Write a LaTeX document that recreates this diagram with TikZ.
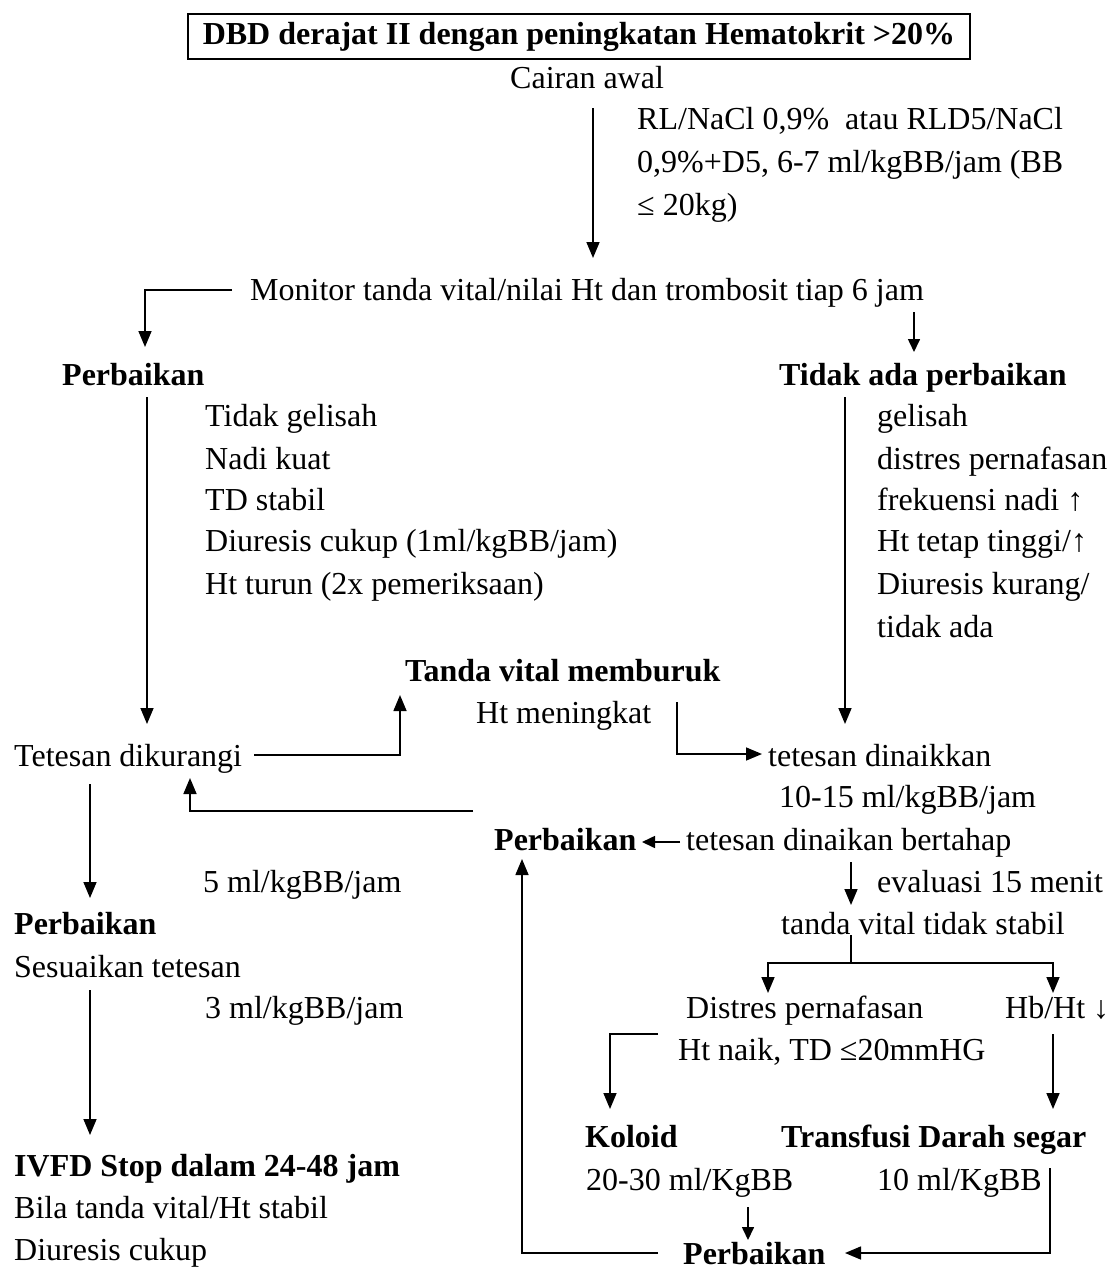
\documentclass[tikz,border=0pt]{standalone}
\usepackage{fontspec}
\setmainfont{Liberation Serif}
\usetikzlibrary{arrows.meta}
\begin{document}
\begin{tikzpicture}[x=1pt,y=-1pt,
  txt/.style={inner sep=0pt,anchor=base west,font=\fontsize{32}{40}\selectfont},
  hd/.style={txt,font=\fontsize{32}{40}\selectfont\bfseries},
  ln/.style={line width=1.6pt},
  arr/.style={ln,-{Triangle[width=13pt,length=16pt]}},
  sarr/.style={ln,-{Triangle[width=12pt,length=13pt]}}]
\useasboundingbox (0,0) rectangle (1112,1277);
\fill[white] (0,0) rectangle (1112,1277);

% title box
\node[draw,line width=1.4pt,minimum width=782pt,minimum height=45pt,inner sep=0pt,
      font=\fontsize{32}{40}\selectfont\bfseries] (title) at (579,36.5)
      {DBD derajat II dengan peningkatan Hematokrit >20\%};

% texts
\node[txt] (cair) at (510,88) {Cairan awal};
\node[txt] (rl1) at (637,129) {RL/NaCl 0,9\%\ \ atau RLD5/NaCl};
\node[txt] (rl2) at (637,172) {0,9\%+D5, 6-7 ml/kgBB/jam (BB};
\node[txt] (rl3) at (637,215) {≤ 20kg)};
\node[txt] (mon) at (250,300) {Monitor tanda vital/nilai Ht dan trombosit tiap 6 jam};
\node[hd] (perbA) at (62,385) {Perbaikan};
\node[hd] (tidak) at (779,385) {Tidak ada perbaikan};

\node[txt] (la) at (205,426) {Tidak gelisah};
\node[txt] (lb) at (205,469) {Nadi kuat};
\node[txt] (lc) at (205,510) {TD stabil};
\node[txt] (ld) at (205,551) {Diuresis cukup (1ml/kgBB/jam)};
\node[txt] (le) at (205,594) {Ht turun (2x pemeriksaan)};

\node[txt] (ra) at (877,426) {gelisah};
\node[txt] (rb) at (877,469) {distres pernafasan};
\node[txt] (rc) at (877,510) {frekuensi nadi ↑};
\node[txt] (rd) at (877,551) {Ht tetap tinggi/↑};
\node[txt] (re) at (877,594) {Diuresis kurang/};
\node[txt] (rf) at (877,637) {tidak ada};

\node[hd] (tvm) at (405,681) {Tanda vital memburuk};
\node[txt] (htm) at (476,723) {Ht meningkat};
\node[txt] (tetk) at (14,766) {Tetesan dikurangi};
\node[txt] (tetn) at (768,766) {tetesan dinaikkan};
\node[txt] (dose) at (779,807) {10-15 ml/kgBB/jam};
\node[hd] (perbB) at (494,850) {Perbaikan};
\node[txt] (bert) at (686,850) {tetesan dinaikan bertahap};
\node[txt] (five) at (203,892) {5 ml/kgBB/jam};
\node[txt] (eval) at (877,892) {evaluasi 15 menit};
\node[hd] (perbC) at (14,934) {Perbaikan};
\node[txt] (tvts) at (781,934) {tanda vital tidak stabil};
\node[txt] (sesu) at (14,977) {Sesuaikan tetesan};
\node[txt] (three) at (205,1018) {3 ml/kgBB/jam};
\node[txt] (distr) at (686,1018) {Distres pernafasan};
\node[txt] (hbht) at (1005,1018) {Hb/Ht ↓};
\node[txt] (htn) at (678,1060) {Ht naik, TD ≤20mmHG};
\node[hd] (kol) at (585,1147) {Koloid};
\node[hd] (trf) at (781,1147) {Transfusi Darah segar};
\node[txt] (d2030) at (586,1190) {20-30 ml/KgBB};
\node[txt] (d10) at (877,1190) {10 ml/KgBB};
\node[hd] (ivfd) at (14,1176) {IVFD Stop dalam 24-48 jam};
\node[txt] (bila) at (14,1218) {Bila tanda vital/Ht stabil};
\node[txt] (diur) at (14,1260) {Diuresis cukup};
\node[hd] (perbD) at (683,1264) {Perbaikan};

% connector end points
\coordinate (c1a) at (593,108);  \coordinate (c1b) at (593,258);
\coordinate (c2a) at (232,290);  \coordinate (c2b) at (145,347);
\coordinate (c3a) at (914,312);  \coordinate (c3b) at (914,352);
\coordinate (c4a) at (147,397);  \coordinate (c4b) at (147,724);
\coordinate (c5a) at (845,397);  \coordinate (c5b) at (845,724);
\coordinate (c6a) at (254,755);  \coordinate (c6b) at (400,695);
\coordinate (c7a) at (677,702);  \coordinate (c7b) at (762,754);
\coordinate (c8a) at (680,842);  \coordinate (c8b) at (642,842);
\coordinate (c9a) at (473,811);  \coordinate (c9b) at (190,778);
\coordinate (c10a) at (90,784);  \coordinate (c10b) at (90,898);
\coordinate (c11a) at (851,862); \coordinate (c11b) at (851,905);
\coordinate (c12a) at (851,935); \coordinate (c12m) at (851,963);
\coordinate (c12l) at (768,993); \coordinate (c12r) at (1053,993);
\coordinate (c13a) at (658,1034); \coordinate (c13b) at (610,1109);
\coordinate (c14a) at (1053,1034); \coordinate (c14b) at (1053,1109);
\coordinate (c15a) at (748,1207); \coordinate (c15b) at (748,1240);
\coordinate (c16a) at (1050,1168); \coordinate (c16b) at (845,1253);
\coordinate (c17a) at (658,1253); \coordinate (c17b) at (522,859);
\coordinate (c18a) at (90,990);  \coordinate (c18b) at (90,1135);

% connectors
\draw[arr] (c1a) -- (c1b);
\draw[arr] (c2a) -| (c2b);
\draw[sarr] (c3a) -- (c3b);
\draw[arr] (c4a) -- (c4b);
\draw[arr] (c5a) -- (c5b);
\draw[arr] (c6a) -| (c6b);
\draw[arr] (c7a) |- (c7b);
\draw[sarr] (c8a) -- (c8b);
\draw[arr] (c9a) -| (c9b);
\draw[arr] (c10a) -- (c10b);
\draw[arr] (c11a) -- (c11b);
\draw[ln] (c12a) -- (c12m);
\draw[arr] (c12m) -| (c12l);
\draw[arr] (c12m) -| (c12r);
\draw[arr] (c13a) -| (c13b);
\draw[arr] (c14a) -- (c14b);
\draw[sarr] (c15a) -- (c15b);
\draw[arr] (c16a) |- (c16b);
\draw[arr] (c17a) -| (c17b);
\draw[arr] (c18a) -- (c18b);
\end{tikzpicture}
\end{document}
